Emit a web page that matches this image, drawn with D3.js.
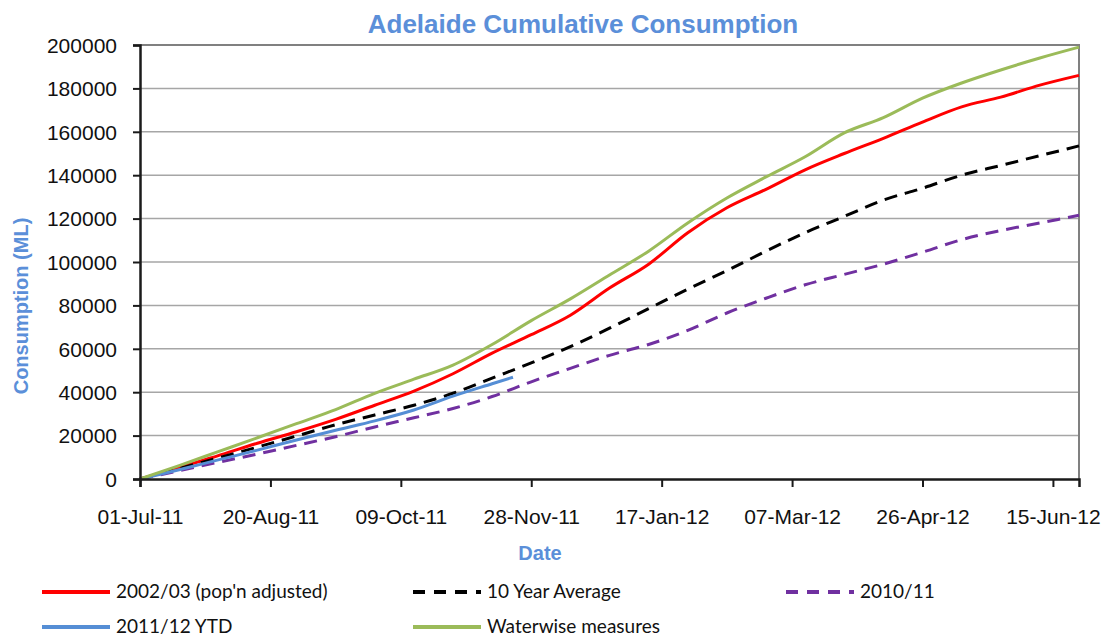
<!DOCTYPE html>
<html>
<head>
<meta charset="utf-8">
<script src="https://cdn.jsdelivr.net/npm/d3@7"></script>
<style>
  body { margin: 0; background: #fff; }
  svg { display: block; }
</style>
</head>
<body>
<svg id="plotSvg"></svg>
<script>
// Sample dates (every 15 days) shared by the full-year series
const dates = ["2011-07-01", "2011-07-16", "2011-07-31", "2011-08-15", "2011-08-30", "2011-09-14",
    "2011-09-29", "2011-10-14", "2011-10-29", "2011-11-13", "2011-11-28", "2011-12-13",
    "2011-12-28", "2012-01-12", "2012-01-27", "2012-02-11", "2012-02-26", "2012-03-12",
    "2012-03-27", "2012-04-11", "2012-04-26", "2012-05-11", "2012-05-26", "2012-06-10",
    "2012-06-25"];

const popAdjusted = [0, 5200, 10800, 16500, 21800, 27500, 34000, 40500, 48500, 58000, 66500, 75500,
    88000, 99000, 113500, 125000, 133500, 142500, 150000, 157000, 164500, 171500, 176000, 181500, 186000];
const tenYearAvg = [0, 4800, 9700, 14700, 19800, 25000, 29500, 34000, 39500, 46500, 53500, 61000,
    69500, 78500, 87500, 96000, 105000, 113500, 121000, 128500, 134000, 140000, 144500, 149000, 153500];
const year1011 = [0, 3800, 7700, 11500, 15500, 19500, 24000, 28200, 32500, 38000, 44800, 51000,
    57000, 62000, 68500, 76500, 83300, 89500, 94300, 99000, 104500, 110300, 114500, 118000, 121500];
const waterwise = [0, 6200, 12600, 19000, 25500, 32000, 39500, 46000, 52500, 62000, 73000, 83000,
    94000, 105000, 118000, 129500, 139200, 148500, 159500, 166500, 175500, 182500, 188500, 194000, 199000];

// year to date series stops in November
const ytdDates = ["2011-07-01", "2011-07-16", "2011-07-31", "2011-08-15", "2011-08-30", "2011-09-14",
    "2011-09-29", "2011-10-14", "2011-10-29", "2011-11-13", "2011-11-21"];
const ytd = [0, 4300, 8800, 13300, 18000, 22500, 26800, 31800, 38200, 43900, 46900];

const tickDates = ["2011-07-01", "2011-08-20", "2011-10-09", "2011-11-28", "2012-01-17",
    "2012-03-07", "2012-04-26", "2012-06-15"];
const yTicks = [0, 20000, 40000, 60000, 80000, 100000, 120000, 140000, 160000, 180000, 200000];

const parse = d3.timeParse("%Y-%m-%d");

const series = [
    { name: "2002/03 (pop'n adjusted)", color: "#ff0000", dash: null, x: dates, y: popAdjusted },
    { name: "10 Year Average", color: "#000000", dash: "13,8", x: dates, y: tenYearAvg },
    { name: "2010/11", color: "#7030a0", dash: "13,8", x: dates, y: year1011 },
    { name: "2011/12 YTD", color: "#558ed5", dash: null, x: ytdDates, y: ytd },
    { name: "Waterwise measures", color: "#9bbb59", dash: null, x: dates, y: waterwise }
];

const W = 1103, H = 639;
const margin = { top: 45, right: 24, bottom: 160, left: 140 };
const width = W - margin.left - margin.right,
    height = H - margin.top - margin.bottom;

const svg = d3.select("#plotSvg").attr("width", W).attr("height", H);
const g = svg.append("g").attr("transform", `translate(${margin.left},${margin.top})`);

const x = d3.scaleTime()
    .domain([parse("2011-07-01"), parse("2012-06-25")])
    .range([0, width]);
const y = d3.scaleLinear().domain([0, 200000]).range([height, 0]);

// gridlines
g.selectAll(".grid")
    .data(yTicks.slice(1))
    .enter().append("line")
    .attr("x1", 0).attr("x2", width)
    .attr("y1", d => y(d)).attr("y2", d => y(d))
    .attr("stroke", "#a6a6a6").attr("stroke-width", 1.5);

// plot frame (top/right)
g.append("path")
    .attr("d", `M0,0H${width}V${height}`)
    .attr("fill", "none").attr("stroke", "#808080").attr("stroke-width", 2);

// series lines
const line = d3.line()
    .x(d => x(d[0]))
    .y(d => y(d[1]))
    .curve(d3.curveMonotoneX);

series.forEach(s => {
    const pts = s.x.map((d, i) => [parse(d), s.y[i]]);
    g.append("path")
        .datum(pts)
        .attr("fill", "none")
        .attr("stroke", s.color)
        .attr("stroke-width", 3)
        .attr("stroke-dasharray", s.dash)
        .attr("d", line);
});

// axes
const yAxis = g.append("g")
    .call(d3.axisLeft(y).tickValues(yTicks).tickSize(7).tickPadding(16).tickFormat(d3.format("d")));
const xAxis = g.append("g")
    .attr("transform", `translate(0,${height})`)
    .call(d3.axisBottom(x).tickValues(tickDates.map(parse)).tickSize(8).tickPadding(22)
        .tickFormat(d3.timeFormat("%d-%b-%y")));

[yAxis, xAxis].forEach(a => {
    a.select(".domain").attr("stroke", "#1a1a1a").attr("stroke-width", 2.5);
    a.selectAll(".tick line").attr("stroke", "#1a1a1a").attr("stroke-width", 2);
    a.selectAll("text")
        .attr("font-family", "Liberation Sans, Arial, sans-serif")
        .attr("font-size", 21)
        .attr("fill", "#111");
});
yAxis.selectAll("text").attr("dy", "0.35em");

// titles
svg.append("text")
    .attr("x", 583).attr("y", 33)
    .attr("text-anchor", "middle")
    .attr("font-family", "Liberation Sans, Arial, sans-serif")
    .attr("font-weight", "bold").attr("font-size", 26)
    .attr("fill", "#5b8fd9")
    .text("Adelaide Cumulative Consumption");

svg.append("text")
    .attr("x", 540).attr("y", 560)
    .attr("text-anchor", "middle")
    .attr("font-family", "Liberation Sans, Arial, sans-serif")
    .attr("font-weight", "bold").attr("font-size", 20)
    .attr("fill", "#5b8fd9")
    .text("Date");

svg.append("text")
    .attr("transform", "translate(28,306) rotate(-90)")
    .attr("text-anchor", "middle")
    .attr("font-family", "Liberation Sans, Arial, sans-serif")
    .attr("font-weight", "bold").attr("font-size", 20)
    .attr("fill", "#5b8fd9")
    .text("Consumption (ML)");

// legend
const legendPos = [[42, 592], [413, 592], [786, 592], [42, 627], [413, 627]];
series.forEach((s, i) => {
    const [lx, ly] = legendPos[i];
    const item = svg.append("g").attr("transform", `translate(${lx},${ly})`);
    item.append("line")
        .attr("x1", 0).attr("x2", 68)
        .attr("stroke", s.color).attr("stroke-width", 4)
        .attr("stroke-dasharray", s.dash ? "12,9" : null);
    item.append("text")
        .attr("x", 74).attr("dy", "0.33em")
        .attr("font-family", "Lato, sans-serif")
        .attr("font-size", 19)
        .attr("fill", "#111")
        .text(s.name);
});
</script>
</body>
</html>
